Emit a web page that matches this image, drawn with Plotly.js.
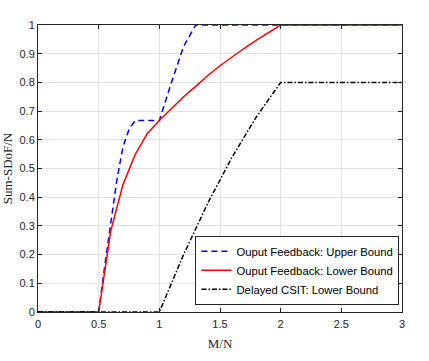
<!DOCTYPE html>
<html>
<head>
<meta charset="utf-8">
<script src="https://cdn.plot.ly/plotly-3.0.1.min.js"></script>
<style>html,body{margin:0;padding:0;background:#fff;}#chart{width:429px;height:361px;}</style>
</head>
<body>
<div id="chart"></div>
<script>
// Data
const upperX = [0, 0.5, 0.55, 0.6, 0.65, 0.7, 0.75, 0.8, 0.9, 1.0, 1.1, 1.2, 1.3, 2.0, 3.0];
const upperY = [0, 0, 0.16, 0.31, 0.46, 0.575, 0.636, 0.667, 0.667, 0.667, 0.80, 0.925, 1.0, 1.0, 1.0];

const lowerX = [0, 0.5, 0.6, 0.7, 0.8, 0.9, 1.0, 1.1, 1.2, 1.3, 1.4, 1.5, 1.6, 1.7, 1.8, 1.9, 2.0, 3.0];
const lowerY = [0, 0, 0.283, 0.443, 0.548, 0.621, 0.667, 0.71, 0.75, 0.786, 0.824, 0.858, 0.889, 0.919, 0.947, 0.974, 1.0, 1.0];

const csitX = [0, 1.0, 1.1, 1.2, 1.3, 1.4, 1.5, 1.6, 1.7, 1.8, 1.9, 2.0, 3.0];
const csitY = [0, 0, 0.10, 0.20, 0.29, 0.38, 0.46, 0.54, 0.61, 0.68, 0.74, 0.8, 0.8];

const seriesNames = ['Ouput Feedback: Upper Bound', 'Ouput Feedback: Lower Bound', 'Delayed CSIT: Lower Bound'];
const xTicks = [0, 0.5, 1, 1.5, 2, 2.5, 3];
const xTickText = ['0', '0.5', '1', '1.5', '2', '2.5', '3'];
const yTicks = [0, 0.1, 0.2, 0.3, 0.4, 0.5, 0.6, 0.7, 0.8, 0.9, 1];
const yTickText = ['0', '0.1', '0.2', '0.3', '0.4', '0.5', '0.6', '0.7', '0.8', '0.9', '1'];

const traces = [
  {x: upperX, y: upperY, name: seriesNames[0], mode: 'lines', line: {color: '#0000ff', width: 1.5, dash: '6px,4px'}},
  {x: lowerX, y: lowerY, name: seriesNames[1], mode: 'lines', line: {color: '#ff0000', width: 1.5}},
  {x: csitX, y: csitY, name: seriesNames[2], mode: 'lines', line: {color: '#000000', width: 1.5, dash: '5px,2px,1.5px,2px'}}
];

const axisCommon = {
  showline: true, linecolor: '#262626', linewidth: 1, mirror: 'ticks',
  ticks: 'inside', ticklen: 4, tickcolor: '#262626', tickwidth: 1,
  showgrid: true, gridcolor: '#e3e3e3', gridwidth: 1, zeroline: false,
  tickfont: {family: 'Liberation Sans, Arial, sans-serif', size: 11, color: '#262626'}
};

const layout = {
  width: 429, height: 361,
  margin: {l: 38, r: 27, t: 25, b: 49},
  paper_bgcolor: '#ffffff', plot_bgcolor: '#ffffff',
  showlegend: true,
  xaxis: Object.assign({}, axisCommon, {
    range: [0, 3], tickvals: xTicks, ticktext: xTickText, ticklabelstandoff: 2,
    title: {text: 'M/N', font: {family: 'Liberation Serif, Times New Roman, serif', size: 13, color: '#262626'}, standoff: 9}
  }),
  yaxis: Object.assign({}, axisCommon, {
    range: [0, 1], tickvals: yTicks, ticktext: yTickText,
    title: {text: 'Sum-SDoF/N', font: {family: 'Liberation Serif, Times New Roman, serif', size: 13, color: '#262626'}, standoff: 5}
  }),
  legend: {
    x: 0.993, y: 0.025, xanchor: 'right', yanchor: 'bottom',
    bgcolor: '#ffffff', bordercolor: '#262626', borderwidth: 1,
    font: {family: 'Liberation Sans, Arial, sans-serif', size: 11.3, color: '#000000'},
    tracegroupgap: 0
  }
};

Plotly.newPlot('chart', traces, layout, {displayModeBar: false, staticPlot: true});
</script>
</body>
</html>
